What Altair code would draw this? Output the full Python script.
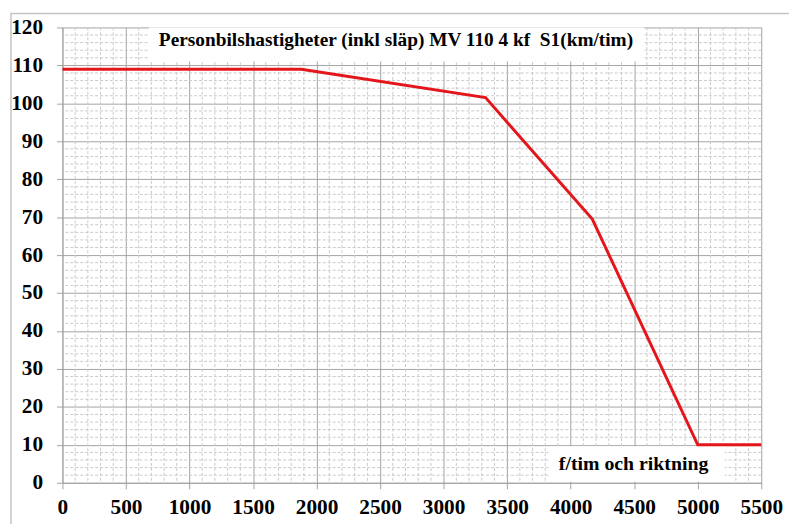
import altair as alt
import pandas as pd

# Data
flow = [0, 1880, 3330, 4170, 5000, 5500]
speed = [109, 109, 101.5, 69.5, 10, 10]

x_ticks = list(range(0, 5501, 500))
y_ticks = list(range(0, 121, 10))
x_minor = [v for v in range(100, 5500, 100) if v % 500 != 0]
y_minor = [v for v in range(2, 120, 2) if v % 10 != 0]

title_text = "Personbilshastigheter (inkl släp) MV 110 4 kf\u00a0\u00a0S1(km/tim)"
xlabel_text = "f/tim och riktning"

FONT = "Liberation Serif"
MAJOR = "#a3a3a3"
MINOR = "#c9c9c9"

xs = alt.Scale(domain=[0, 5500], nice=False, zero=False)
ys = alt.Scale(domain=[0, 120], nice=False, zero=False)

base_axis = dict(
    grid=True, gridColor=MAJOR, gridWidth=1,
    domainColor=MAJOR, tickColor=MAJOR, tickSize=6,
    labelFont=FONT, labelFontSize=21.5, labelFontWeight="bold",
    labelColor="black", title=None, labelFlush=False, labelOverlap=False,
    format="d",
)
x_axis = alt.Axis(values=x_ticks, labelPadding=8, **base_axis)
y_axis = alt.Axis(values=y_ticks, labelPadding=14, **base_axis)

line_df = pd.DataFrame({"flow": flow, "speed": speed})

main = alt.Chart(line_df).mark_line(color="#e3161c", strokeWidth=3).encode(
    x=alt.X("flow:Q", scale=xs, axis=x_axis),
    y=alt.Y("speed:Q", scale=ys, axis=y_axis),
)

minor_x = alt.Chart(pd.DataFrame({"v": x_minor})).mark_rule(
    color=MINOR, strokeWidth=1, strokeDash=[3, 2]
).encode(x=alt.X("v:Q", scale=xs, axis=x_axis))

minor_y = alt.Chart(pd.DataFrame({"v": y_minor})).mark_rule(
    color=MINOR, strokeWidth=1, strokeDash=[3, 2]
).encode(y=alt.Y("v:Q", scale=ys, axis=y_axis))

boxes_df = pd.DataFrame({
    "x1": [680, 3833], "x2": [4580, 5212],
    "y1": [111, 0.25], "y2": [120, 9.6],
})
boxes = alt.Chart(boxes_df).mark_rect(color="white").encode(
    x=alt.X("x1:Q", scale=xs, axis=x_axis), x2="x2:Q",
    y=alt.Y("y1:Q", scale=ys, axis=y_axis), y2="y2:Q",
)

texts_df = pd.DataFrame({
    "x": [2625, 4495], "y": [116.6, 5.0], "t": [title_text, xlabel_text],
    "s": [19.5, 20],
})
texts = alt.Chart(texts_df).mark_text(
    font=FONT, fontWeight="bold", color="black", align="center", baseline="middle"
).encode(
    x=alt.X("x:Q", scale=xs, axis=x_axis), y=alt.Y("y:Q", scale=ys, axis=y_axis), text="t:N",
    size=alt.Size("s:Q", scale=None, legend=None),
)

border = alt.Chart(pd.DataFrame({"a": [0]})).mark_rect(
    fill=None, stroke="#c4c4c4", strokeWidth=1.5
).encode(
    x=alt.value(-52), x2=alt.value(760), y=alt.value(-14), y2=alt.value(530),
)

chart = alt.layer(minor_x, minor_y, boxes, main, texts, border).properties(
    width=706, height=460,
    autosize=alt.AutoSizeParams(type="none"),
    padding={"left": 55, "top": 17, "right": 28, "bottom": 39},
).configure_view(strokeWidth=0)

chart.save("out.html", embed_options={"renderer": "svg", "actions": False})
